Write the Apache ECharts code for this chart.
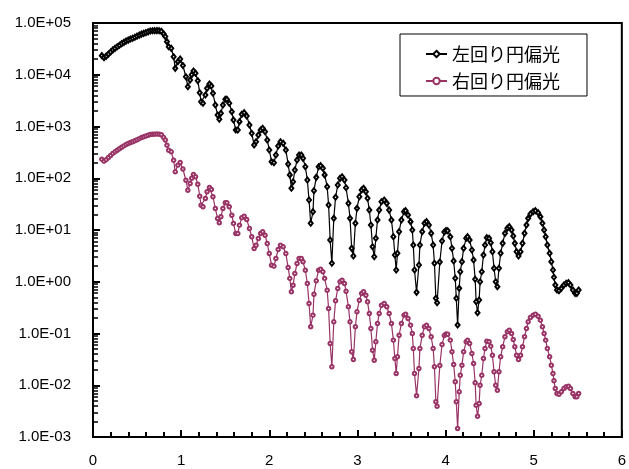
<!DOCTYPE html>
<html>
<head>
<meta charset="utf-8">
<script src="https://cdn.jsdelivr.net/npm/echarts@6/dist/echarts.min.js"></script>
<style>
  html, body { margin: 0; padding: 0; background: #fff; }
  #chart { width: 629px; height: 469px; }
</style>
</head>
<body>
<div id="chart"></div>
<script>
// x positions of the measured points
const xValues = [
  0.1,0.125,0.15,0.175,0.2,0.225,0.25,0.275,0.3,0.325,
  0.35,0.375,0.4,0.425,0.45,0.475,0.5,0.525,0.55,0.575,
  0.6,0.625,0.65,0.675,0.7,0.725,0.75,0.775,0.8,0.82,
  0.839,0.859,0.888,0.915,0.933,0.963,0.989,1.02,1.054,1.076,
  1.102,1.12,1.14,1.163,1.189,1.211,1.226,1.248,1.275,1.294,
  1.321,1.343,1.361,1.388,1.414,1.433,1.451,1.474,1.501,1.519,
  1.546,1.575,1.594,1.62,1.643,1.662,1.688,1.715,1.744,1.775,
  1.801,1.828,1.85,1.876,1.902,1.925,1.952,1.977,2.0,2.026,
  2.053,2.075,2.101,2.127,2.158,2.188,2.214,2.233,2.251,2.27,
  2.29,2.315,2.338,2.364,2.383,2.409,2.432,2.451,2.47,2.496,
  2.507,2.533,2.56,2.583,2.608,2.628,2.657,2.673,2.691,2.71,
  2.732,2.752,2.777,2.803,2.826,2.853,2.871,2.898,2.916,2.935,
  2.954,2.977,2.995,3.022,3.048,3.07,3.096,3.115,3.135,3.153,
  3.172,3.191,3.209,3.228,3.247,3.273,3.304,3.333,3.36,3.386,
  3.408,3.425,3.44,3.454,3.473,3.499,3.529,3.547,3.574,3.603,
  3.623,3.634,3.648,3.671,3.698,3.709,3.735,3.761,3.784,3.811,
  3.837,3.859,3.874,3.89,3.904,3.935,3.96,3.986,4.005,4.024,
  4.054,4.073,4.092,4.11,4.122,4.137,4.155,4.167,4.186,4.205,
  4.234,4.25,4.273,4.299,4.318,4.336,4.347,4.363,4.381,4.392,
  4.411,4.43,4.448,4.468,4.494,4.513,4.532,4.55,4.569,4.588,
  4.606,4.625,4.648,4.674,4.701,4.723,4.749,4.768,4.786,4.806,
  4.828,4.851,4.873,4.896,4.918,4.937,4.963,4.994,5.02,5.05,
  5.076,5.099,5.118,5.136,5.155,5.181,5.2,5.219,5.23,5.245,
  5.264,5.287,5.313,5.343,5.369,5.395,5.417,5.445,5.47,5.49,
  5.51
];

// 左回り円偏光
const leftValues = [
  2.34e4,2.14e4,2.29e4,2.51e4,2.75e4,3.02e4,3.24e4,3.47e4,3.72e4,3.98e4,
  4.22e4,4.47e4,4.68e4,4.90e4,5.07e4,5.31e4,5.56e4,5.82e4,6.10e4,6.31e4,
  6.53e4,6.76e4,7.00e4,7.08e4,7.11e4,7.13e4,7.11e4,6.92e4,6.17e4,5.50e4,
  4.36e4,3.48e4,3.24e4,2.23e4,1.33e4,1.79e4,2.01e4,1.51e4,9.16e3,5.88e3,
  7.93e3,1.00e4,1.18e4,1.07e4,7.67e3,4.50e3,3.01e3,2.81e3,4.06e3,5.47e3,
  6.62e3,6.07e3,4.39e3,2.60e3,1.67e3,1.38e3,1.80e3,2.60e3,3.36e3,3.36e3,
  2.81e3,1.93e3,1.34e3,8.55e2,8.55e2,1.24e3,1.72e3,1.85e3,1.60e3,1.07e3,
  7.40e2,4.40e2,5.08e2,6.86e2,8.55e2,9.23e2,7.94e2,5.48e2,3.52e2,2.09e2,
  2.00e2,2.81e2,4.20e2,5.08e2,4.73e2,3.52e2,1.88e2,1.16e2,6.40e1,8.57e1,
  1.44e2,2.25e2,2.81e2,2.81e2,2.43e2,1.67e2,9.25e1,3.80e1,1.35e1,2.26e1,
  5.75e1,1.04e2,1.67e2,1.75e2,1.56e2,1.16e2,6.87e1,3.04e1,6.41,2.28,
  1.68e1,4.29e1,7.41e1,9.98e1,1.07e2,9.25e1,6.56e1,3.28e1,1.68e1,4.43,
  3.15,1.35e1,2.62e1,4.40e1,5.93e1,6.40e1,5.50e1,4.10e1,2.43e1,1.25e1,
  4.75,3.05,6.92,1.56e1,2.43e1,3.52e1,3.80e1,3.28e1,2.43e1,1.56e1,
  7.43,3.29,1.69,3.55,9.27,1.56e1,2.26e1,2.36e1,1.95e1,1.45e1,
  1.00e1,5.13,1.69,0.625,2.11,5.13,9.27,1.35e1,1.45e1,1.25e1,
  8.63,5.13,2.28,0.479,0.394,2.41,6.12,9.14,9.77,9.68,
  7.43,4.43,2.52,1.17,0.479,0.146,0.746,1.56,2.44,4.43,
  6.92,7.43,6.41,4.11,2.63,1.12,0.411,0.252,0.444,1.00,
  1.56,3.29,5.13,7.10,6.92,5.69,3.81,1.82,1.00,0.802,
  1.82,3.55,5.53,8.63,10.8,11.6,10.0,7.66,5.53,3.81,
  3.15,3.81,5.53,8.63,12.5,16.8,20.4,22.6,23.6,21.6,
  18.1,13.5,10.0,7.43,5.13,3.55,2.44,1.69,1.22,0.865,
  0.693,0.671,0.746,0.865,0.933,0.959,0.865,0.693,0.598,0.598,
  0.693
];

// 右回り円偏光
const rightValues = [
  2.34e2,2.14e2,2.29e2,2.51e2,2.75e2,3.02e2,3.24e2,3.47e2,3.72e2,3.98e2,
  4.22e2,4.47e2,4.68e2,4.90e2,5.07e2,5.31e2,5.56e2,5.82e2,6.10e2,6.31e2,
  6.53e2,6.76e2,7.00e2,7.08e2,7.11e2,7.13e2,7.11e2,6.92e2,6.17e2,5.50e2,
  4.36e2,3.48e2,3.24e2,2.23e2,1.33e2,1.79e2,2.01e2,1.51e2,9.16e1,5.88e1,
  7.93e1,1.00e2,1.18e2,1.07e2,7.67e1,4.50e1,3.01e1,2.81e1,4.06e1,5.47e1,
  6.62e1,6.07e1,4.39e1,2.60e1,1.67e1,1.38e1,1.80e1,2.60e1,3.36e1,3.36e1,
  2.81e1,1.93e1,1.34e1,8.55,8.55,1.24e1,1.72e1,1.85e1,1.60e1,1.07e1,
  7.40,4.40,5.08,6.86,8.55,9.23,7.94,5.48,3.52,2.09,
  2.00,2.81,4.20,5.08,4.73,3.52,1.88,1.16,6.40e-1,8.57e-1,
  1.44,2.25,2.81,2.81,2.43,1.67,9.25e-1,3.80e-1,1.35e-1,2.26e-1,
  5.75e-1,1.04,1.67,1.75,1.56,1.16,6.87e-1,3.04e-1,6.41e-2,2.28e-2,
  1.68e-1,4.29e-1,7.41e-1,9.98e-1,1.07,9.25e-1,6.56e-1,3.28e-1,1.68e-1,4.43e-2,
  3.15e-2,1.35e-1,2.62e-1,4.40e-1,5.93e-1,6.40e-1,5.50e-1,4.10e-1,2.43e-1,1.25e-1,
  4.75e-2,3.05e-2,6.92e-2,1.56e-1,2.43e-1,3.52e-1,3.80e-1,3.28e-1,2.43e-1,1.56e-1,
  7.43e-2,3.29e-2,1.69e-2,3.55e-2,9.27e-2,1.56e-1,2.26e-1,2.36e-1,1.95e-1,1.45e-1,
  1.00e-1,5.13e-2,1.69e-2,6.25e-3,2.11e-2,5.13e-2,9.27e-2,1.35e-1,1.45e-1,1.25e-1,
  8.63e-2,5.13e-2,2.28e-2,4.79e-3,3.94e-3,2.41e-2,6.12e-2,9.14e-2,9.77e-2,9.68e-2,
  7.43e-2,4.43e-2,2.52e-2,1.17e-2,4.79e-3,1.46e-3,7.46e-3,1.56e-2,2.44e-2,4.43e-2,
  6.92e-2,7.43e-2,6.41e-2,4.11e-2,2.63e-2,1.12e-2,4.11e-3,2.52e-3,4.44e-3,1.00e-2,
  1.56e-2,3.29e-2,5.13e-2,7.10e-2,6.92e-2,5.69e-2,3.81e-2,1.82e-2,1.00e-2,8.02e-3,
  1.82e-2,3.55e-2,5.53e-2,8.63e-2,1.08e-1,1.16e-1,1.00e-1,7.66e-2,5.53e-2,3.81e-2,
  3.15e-2,3.81e-2,5.53e-2,8.63e-2,1.25e-1,1.68e-1,2.04e-1,2.26e-1,2.36e-1,2.16e-1,
  1.81e-1,1.35e-1,1.00e-1,7.43e-2,5.13e-2,3.55e-2,2.44e-2,1.69e-2,1.22e-2,8.65e-3,
  6.93e-3,6.71e-3,7.46e-3,8.65e-3,9.33e-3,9.59e-3,8.65e-3,6.93e-3,5.98e-3,5.98e-3,
  6.93e-3
];

const seriesNames = ["左回り円偏光", "右回り円偏光"];
const yMin = 1e-3;
const yMax = 1e5;

function expLabel(v) {
  const n = Math.round(Math.log10(v));
  const s = n < 0 ? "-" : "+";
  const a = Math.abs(n);
  return "1.0E" + s + (a < 10 ? "0" + a : a);
}

const chart = echarts.init(document.getElementById("chart"));
const axisFont = { fontFamily: "Liberation Sans", fontSize: 15, color: "#000" };

chart.setOption({
  animation: false,
  backgroundColor: "#fff",
  grid: {
    left: 93, right: 3, top: 23, bottom: 32,
    show: true, borderColor: "#000", borderWidth: 2
  },
  legend: {
    data: seriesNames,
    orient: "vertical",
    left: 400, top: 34,
    padding: [11, 27, 6, 25],
    itemGap: 9,
    itemWidth: 21,
    itemHeight: 8,
    backgroundColor: "#fff",
    borderColor: "#000",
    borderWidth: 1,
    borderRadius: 0,
    textStyle: { fontFamily: "Noto Sans CJK JP", fontSize: 18, color: "#000" }
  },
  xAxis: {
    type: "value",
    min: 0, max: 6, interval: 1,
    axisLine: { lineStyle: { color: "#000", width: 2 } },
    axisTick: { show: true, inside: true, length: 7, lineStyle: { color: "#000", width: 2 } },
    minorTick: { show: true, splitNumber: 5, length: 5, lineStyle: { color: "#000", width: 2 } },
    splitLine: { show: false },
    axisLabel: Object.assign({ margin: 16 }, axisFont)
  },
  yAxis: {
    type: "log",
    logBase: 10,
    min: yMin, max: yMax,
    splitNumber: 8,
    axisLine: { lineStyle: { color: "#000", width: 2 } },
    axisTick: { show: true, inside: true, length: 7, lineStyle: { color: "#000", width: 2 } },
    minorTick: { show: true, splitNumber: 9, length: 5, lineStyle: { color: "#000", width: 1.5 } },
    splitLine: { show: false },
    axisLabel: Object.assign({ margin: 22, formatter: expLabel }, axisFont)
  },
  series: [
    {
      name: seriesNames[0],
      type: "line",
      data: xValues.map((x, i) => [x, leftValues[i]]),
      symbol: "emptyDiamond",
      symbolSize: [4, 5],
      showAllSymbol: true,
      lineStyle: { color: "#000", width: 1.2 },
      itemStyle: { color: "#000", borderWidth: 1 },
      z: 3
    },
    {
      name: seriesNames[1],
      type: "line",
      data: xValues.map((x, i) => [x, rightValues[i]]),
      symbol: "emptyCircle",
      symbolSize: 3.5,
      showAllSymbol: true,
      lineStyle: { color: "#993366", width: 1.2 },
      itemStyle: { color: "#993366", borderWidth: 1 },
      z: 2
    }
  ]
});
</script>
</body>
</html>
